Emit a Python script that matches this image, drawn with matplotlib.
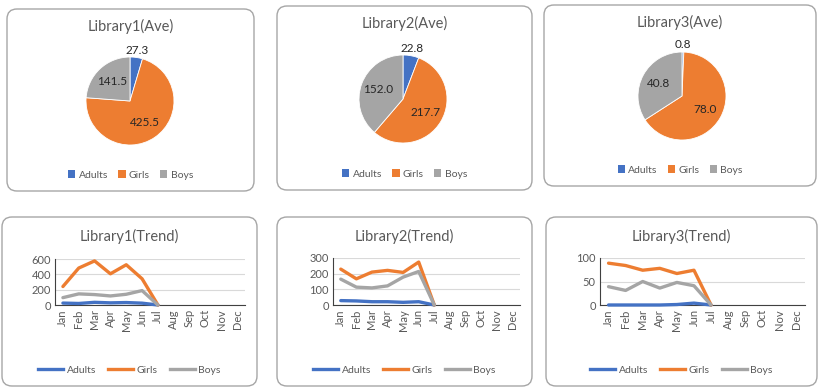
import numpy as np
import matplotlib
matplotlib.use("Agg")
import matplotlib.pyplot as plt
from matplotlib.patches import FancyBboxPatch, Patch
from matplotlib.lines import Line2D

W, H = 820, 391
plt.rcParams['font.family'] = ['Lato', 'DejaVu Sans']

groups = ['Adults', 'Girls', 'Boys']
colors = ['#4472C4', '#ED7D31', '#A5A5A5']
months = ['Jan', 'Feb', 'Mar', 'Apr', 'May', 'Jun', 'Jul', 'Aug', 'Sep', 'Oct', 'Nov', 'Dec']

# averages shown in the pies
lib1_ave = [27.3, 425.5, 141.5]
lib2_ave = [22.8, 217.7, 152.0]
lib3_ave = [0.8, 78.0, 40.8]

# monthly trend (Jan..Jul, later months empty)
nan = np.nan
lib1_adults = [25, 20, 35, 28, 32, 24, 0, nan, nan, nan, nan, nan]
lib1_girls = [241, 482, 575, 407, 525, 342, 0, nan, nan, nan, nan, nan]
lib1_boys = [96, 145, 136, 118, 140, 188, 0, nan, nan, nan, nan, nan]

lib2_adults = [28, 26, 21, 21, 17, 21, 0, nan, nan, nan, nan, nan]
lib2_girls = [229, 167, 210, 221, 208, 274, 0, nan, nan, nan, nan, nan]
lib2_boys = [165, 114, 109, 122, 178, 214, 0, nan, nan, nan, nan, nan]

lib3_adults = [0, 0, 0, 0, 1, 4, 0, nan, nan, nan, nan, nan]
lib3_girls = [89, 84, 74, 78, 67, 74, 0, nan, nan, nan, nan, nan]
lib3_boys = [39, 31, 50, 36, 48, 41, 0, nan, nan, nan, nan, nan]

TXT = '#595959'

fig = plt.figure(figsize=(W / 100, H / 100), dpi=100)
fig.patch.set_facecolor('white')

# background layer in pixel units for the rounded chart frames
bg = fig.add_axes([0, 0, 1, 1])
bg.set_xlim(0, W)
bg.set_ylim(H, 0)
bg.axis('off')

def px_axes(x0, y0, x1, y1):
    return fig.add_axes([x0 / W, 1 - y1 / H, (x1 - x0) / W, (y1 - y0) / H])

def frame(x0, y0, x1, y1):
    bg.add_patch(FancyBboxPatch((x0, y0), x1 - x0, y1 - y0,
                                boxstyle='round,pad=0,rounding_size=10',
                                fc='white', ec='#A6A6A6', lw=1.0))

def pie_chart(vals, title, box, center, r=44):
    frame(*box)
    x0, y0, x1, y1 = box
    cx, cy = center
    ax = px_axes(cx - r, cy - r, cx + r, cy + r)
    wedges, _ = ax.pie(vals, colors=colors, startangle=90, counterclock=False,
                       radius=1, wedgeprops=dict(lw=0.6, ec='white'))
    ax.set_xlim(-1, 1)
    ax.set_ylim(-1, 1)
    ax.set_aspect('equal')
    for w, v in zip(wedges, vals):
        ang = np.deg2rad((w.theta1 + w.theta2) / 2)
        frac = (w.theta2 - w.theta1) / 360
        d = 1.17 if frac < 0.1 else 0.6
        ax.text(d * np.cos(ang), d * np.sin(ang), f'{v:.1f}', ha='center', va='center',
                fontsize=8.5, color='#262626', clip_on=False)
    fig.text((x0 + x1) / 2 / W, 1 - (y0 + 17) / H, title, ha='center', va='center',
             fontsize=10.5, color=TXT)
    handles = [Patch(fc=c, ec='none') for c in colors]
    fig.legend(handles, groups, loc='center', ncol=3, frameon=False,
               bbox_to_anchor=((x0 + x1) / 2 / W, 1 - (y1 - 16) / H),
               fontsize=7.5, handlelength=0.7, handleheight=0.7, handletextpad=0.3,
               columnspacing=1.0, labelcolor=TXT)

def trend_chart(series, title, box, plot, ymax, ystep):
    frame(*box)
    x0, y0, x1, y1 = box
    ax = px_axes(*plot)
    x = np.arange(len(months))
    for s, c in zip(series, colors):
        ax.plot(x, s, color=c, lw=2.4, solid_capstyle='round', clip_on=False, zorder=3)
    ax.set_xlim(-0.5, len(months) - 0.5)
    ax.set_ylim(0, ymax)
    ax.set_yticks(np.arange(0, ymax + 1, ystep))
    ax.set_xticks(x)
    ax.set_xticklabels(months, rotation=90)
    ax.tick_params(axis='both', length=0, labelsize=8, colors=TXT, pad=3)
    ax.grid(axis='y', color='#D9D9D9', lw=0.8)
    ax.set_axisbelow(True)
    for sp in ['top', 'right']:
        ax.spines[sp].set_visible(False)
    ax.spines['left'].set_color('#404040')
    ax.spines['left'].set_linewidth(0.8)
    ax.spines['bottom'].set_color('#404040')
    ax.spines['bottom'].set_linewidth(0.8)
    fig.text((x0 + x1) / 2 / W, 1 - (y0 + 19) / H, title, ha='center', va='center',
             fontsize=10.5, color=TXT)
    handles = [Line2D([], [], color=c, lw=2.4) for c in colors]
    fig.legend(handles, groups, loc='center', ncol=3, frameon=False,
               bbox_to_anchor=((x0 + x1) / 2 / W, 1 - (y1 - 16) / H),
               fontsize=7.5, handlelength=2.4, handletextpad=0.3,
               columnspacing=1.2, labelcolor=TXT)

pie_chart(lib1_ave, 'Library1(Ave)', (7, 9, 254, 191), (130, 101))
pie_chart(lib2_ave, 'Library2(Ave)', (277, 6, 532, 190), (403, 99))
pie_chart(lib3_ave, 'Library3(Ave)', (544, 5, 816, 186), (682, 96))

trend_chart([lib1_adults, lib1_girls, lib1_boys], 'Library1(Trend)',
            (2, 217, 257, 386), (55, 259, 245, 305), 600, 200)
trend_chart([lib2_adults, lib2_girls, lib2_boys], 'Library2(Trend)',
            (277, 217, 532, 386), (333, 258, 520, 305), 300, 100)
trend_chart([lib3_adults, lib3_girls, lib3_boys], 'Library3(Trend)',
            (546, 217, 817, 386), (600, 258, 805, 305), 100, 50)

fig.savefig('out.png', dpi=100, facecolor='white')
